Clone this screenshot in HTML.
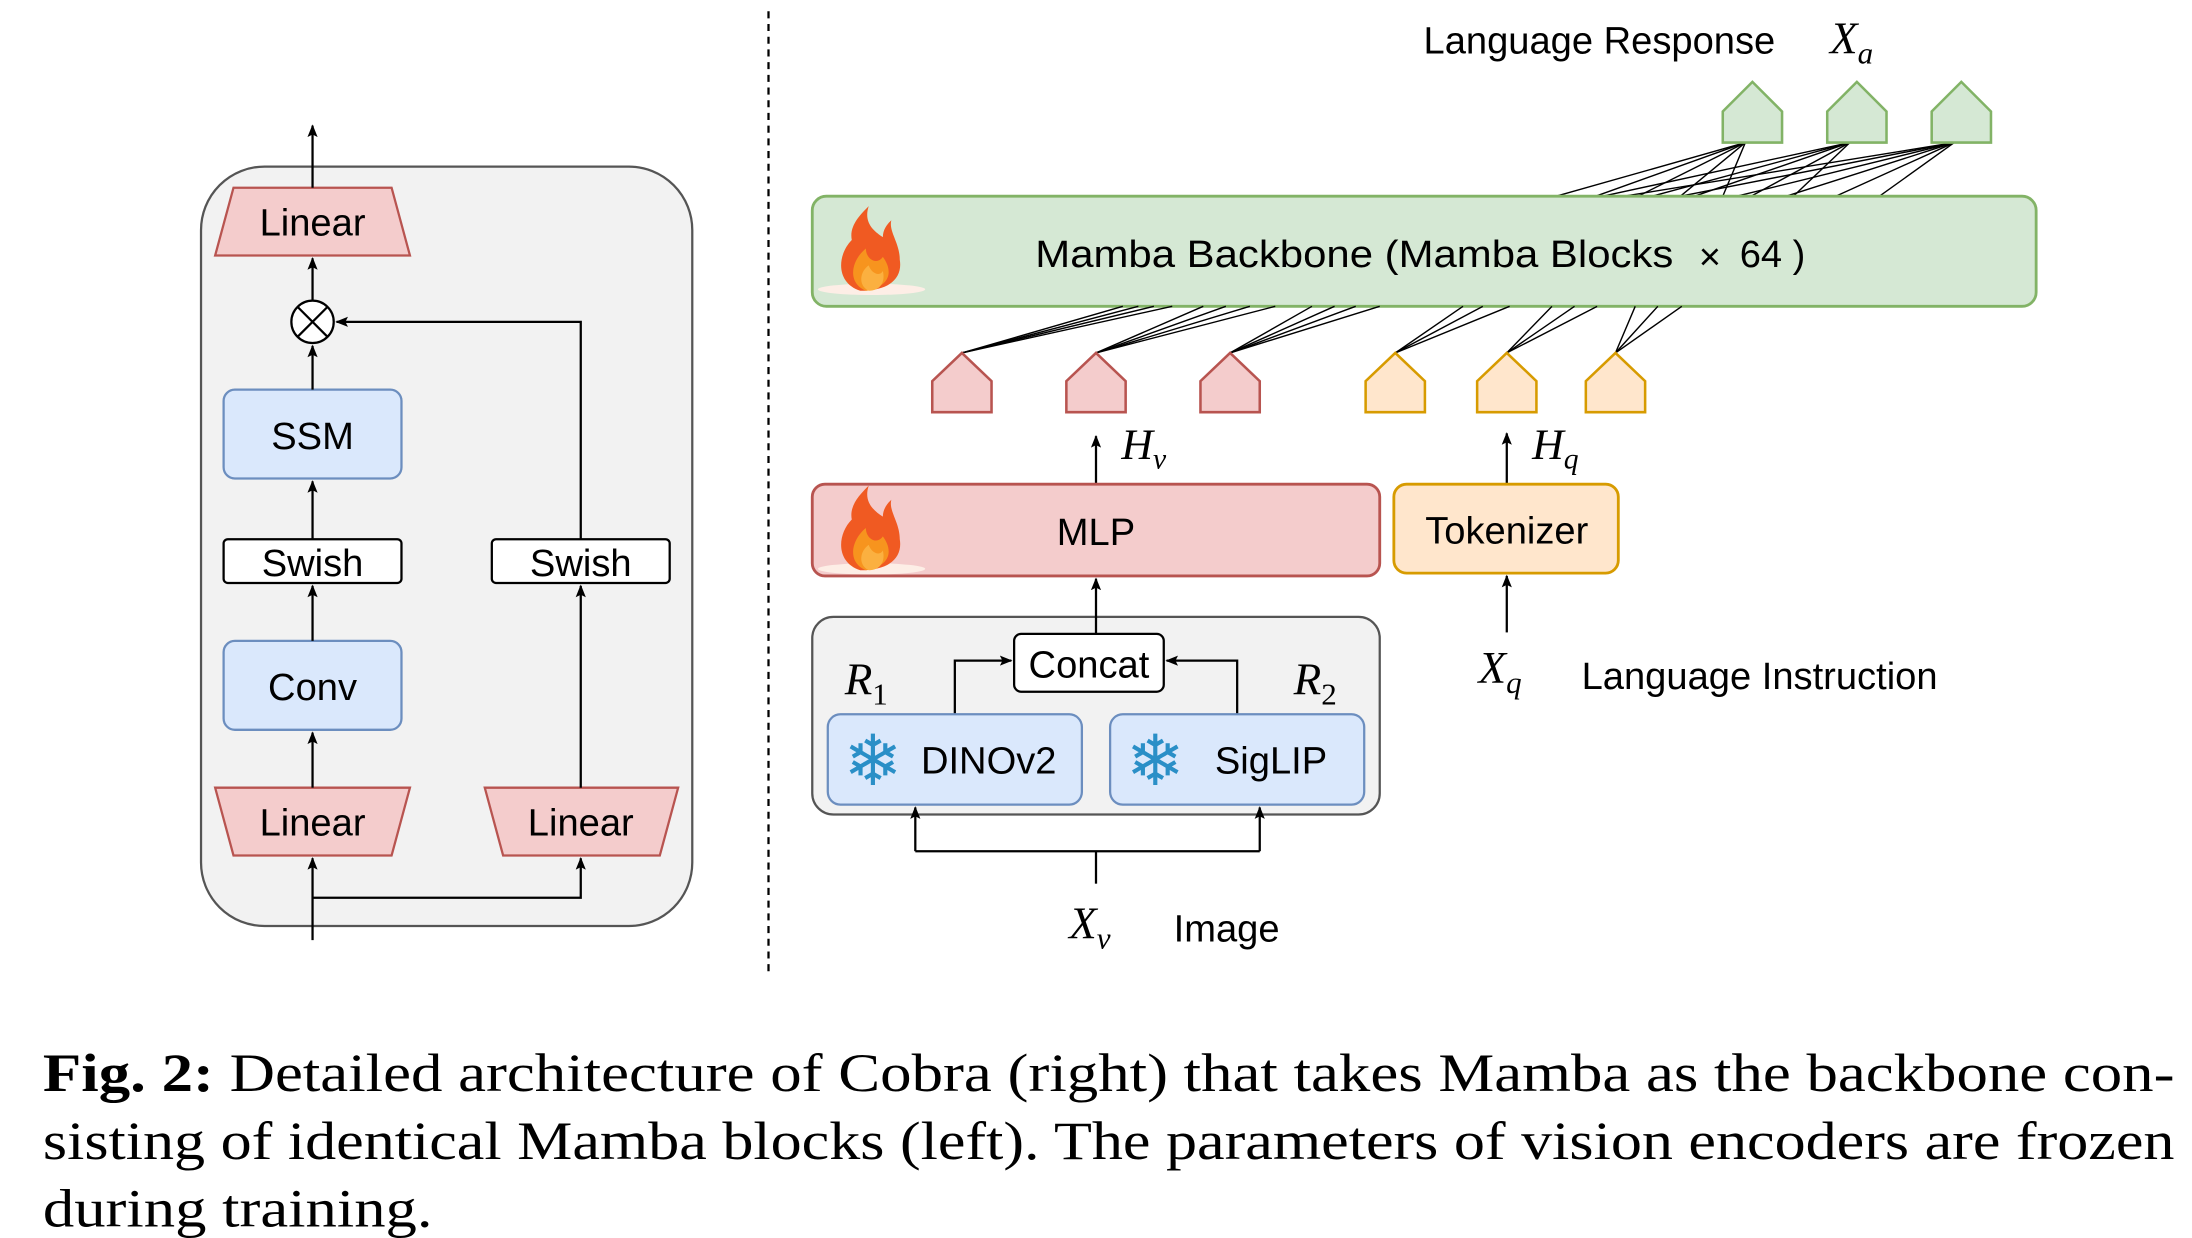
<!DOCTYPE html>
<html><head><meta charset="utf-8"><style>
html,body{margin:0;padding:0;background:#fff;}
svg{display:block;}
text{font-family:"Liberation Sans",Arial,sans-serif;}
text.s,.s text{font-family:"Liberation Serif","DejaVu Serif",serif;}
</style></head><body>
<svg width="2192" height="1238" viewBox="0 0 1552 877" xmlns="http://www.w3.org/2000/svg">
<defs>
<marker id="a" viewBox="0 0 10 10" refX="9" refY="5" markerWidth="9" markerHeight="9" orient="auto-start-reverse" markerUnits="userSpaceOnUse"><path d="M0,1 L10,5 L0,9 L2,5z" fill="#000"/></marker>
<g id="flame">
<ellipse cx="0" cy="25" rx="38" ry="4" fill="#fdeee6"/>
<path d="M-8,26 C-26,20 -24,0 -14,-10 C-16,-20 -8,-28 -2,-34 C-6,-22 2,-16 8,-12 C8,-18 12,-22 14,-24 C12,-16 20,-8 20,4 C22,16 14,26 -8,26z" fill="#f05a22"/>
<path d="M-4,26 C-18,20 -14,4 -4,-4 C-4,4 4,8 8,2 C14,10 16,22 -4,26z" fill="#f7941e"/>
<path d="M-2,26 C-10,22 -8,12 -2,8 C0,14 6,16 8,12 C10,20 6,26 -2,26z" fill="#fbb040"/>
</g>
</defs>

<!-- LEFT PANEL -->
<rect x="142" y="118" width="348" height="538" rx="45" fill="#f2f2f2" stroke="#555" stroke-width="1.6"/>
<polygon points="165,133 277,133 290,181 152,181" fill="#f4cccc" stroke="#b85450" stroke-width="1.6"/>
<text x="221" y="167" font-size="27" text-anchor="middle">Linear</text>
<line x1="221" y1="133" x2="221" y2="89" stroke="#000" stroke-width="1.6" marker-end="url(#a)"/>
<circle cx="221" cy="228" r="15" fill="#fff" stroke="#000" stroke-width="1.6"/>
<path d="M210.4,217.4 L231.6,238.6 M231.6,217.4 L210.4,238.6" stroke="#000" stroke-width="1.6"/>
<line x1="221" y1="213" x2="221" y2="183" stroke="#000" stroke-width="1.6" marker-end="url(#a)"/>
<rect x="158" y="276" width="126" height="63" rx="8" fill="#dae8fc" stroke="#6c8ebf" stroke-width="1.6"/>
<text x="221" y="318" font-size="27" text-anchor="middle">SSM</text>
<line x1="221" y1="276" x2="221" y2="245" stroke="#000" stroke-width="1.6" marker-end="url(#a)"/>
<rect x="158" y="382" width="126" height="31" rx="3" fill="#fff" stroke="#000" stroke-width="1.6"/>
<text x="221" y="408" font-size="27" text-anchor="middle">Swish</text>
<line x1="221" y1="382" x2="221" y2="341" stroke="#000" stroke-width="1.6" marker-end="url(#a)"/>
<rect x="158" y="454" width="126" height="63" rx="8" fill="#dae8fc" stroke="#6c8ebf" stroke-width="1.6"/>
<text x="221" y="496" font-size="27" text-anchor="middle">Conv</text>
<line x1="221" y1="454" x2="221" y2="415" stroke="#000" stroke-width="1.6" marker-end="url(#a)"/>
<polygon points="152,558 290,558 277,606 165,606" fill="#f4cccc" stroke="#b85450" stroke-width="1.6"/>
<text x="221" y="592" font-size="27" text-anchor="middle">Linear</text>
<line x1="221" y1="558" x2="221" y2="519" stroke="#000" stroke-width="1.6" marker-end="url(#a)"/>
<polygon points="343,558 480,558 467,606 356,606" fill="#f4cccc" stroke="#b85450" stroke-width="1.6"/>
<text x="411" y="592" font-size="27" text-anchor="middle">Linear</text>
<rect x="348" y="382" width="126" height="31" rx="3" fill="#fff" stroke="#000" stroke-width="1.6"/>
<text x="411" y="408" font-size="27" text-anchor="middle">Swish</text>
<line x1="411" y1="558" x2="411" y2="415" stroke="#000" stroke-width="1.6" marker-end="url(#a)"/>
<polyline points="411,382 411,228 238,228" fill="none" stroke="#000" stroke-width="1.6" marker-end="url(#a)"/>
<line x1="221" y1="666" x2="221" y2="608" stroke="#000" stroke-width="1.6" marker-end="url(#a)"/>
<polyline points="221,636 411,636 411,608" fill="none" stroke="#000" stroke-width="1.6" marker-end="url(#a)"/>

<!-- divider -->
<line x1="544" y1="8" x2="544" y2="690" stroke="#000" stroke-width="1.6" stroke-dasharray="5,4"/>

<!-- RIGHT -->
<text x="1008" y="38" font-size="27">Language Response</text>
<text x="1296" y="38" font-size="32" font-style="italic" class="s">X<tspan font-size="22" dy="7">a</tspan></text>

<g stroke="#000" stroke-width="1">
<line x1="1102" y1="139" x2="1236" y2="101"/><line x1="1130" y1="139" x2="1236" y2="101"/><line x1="1160" y1="139" x2="1236" y2="101"/><line x1="1190" y1="139" x2="1236" y2="101"/><line x1="1220" y1="139" x2="1236" y2="101"/>
<line x1="1135" y1="139" x2="1310" y2="101"/><line x1="1170" y1="139" x2="1310" y2="101"/><line x1="1200" y1="139" x2="1310" y2="101"/><line x1="1240" y1="139" x2="1310" y2="101"/><line x1="1270" y1="139" x2="1310" y2="101"/>
<line x1="1150" y1="139" x2="1384" y2="101"/><line x1="1190" y1="139" x2="1384" y2="101"/><line x1="1230" y1="139" x2="1384" y2="101"/><line x1="1265" y1="139" x2="1384" y2="101"/><line x1="1300" y1="139" x2="1384" y2="101"/><line x1="1331" y1="139" x2="1384" y2="101"/>
</g>
<g fill="#d5e8d4" stroke="#82b366" stroke-width="1.8">
<polygon points="1220,101 1220,79 1241,58 1262,79 1262,101"/>
<polygon points="1294,101 1294,79 1315,58 1336,79 1336,101"/>
<polygon points="1368,101 1368,79 1389,58 1410,79 1410,101"/>
</g>

<rect x="575" y="139" width="867" height="78" rx="10" fill="#d5e8d4" stroke="#82b366" stroke-width="2"/>
<use href="#flame" x="617" y="180"/>
<text x="733" y="189" font-size="27" textLength="452" lengthAdjust="spacingAndGlyphs">Mamba Backbone (Mamba Blocks</text>
<text x="1203" y="191" font-size="27" font-family="DejaVu Sans,sans-serif">×</text>
<text x="1232" y="189" font-size="27">64 )</text>

<g stroke="#000" stroke-width="1">
<line x1="681" y1="250" x2="795" y2="217"/><line x1="681" y1="250" x2="806" y2="217"/><line x1="681" y1="250" x2="817" y2="217"/><line x1="681" y1="250" x2="830" y2="217"/>
<line x1="776" y1="250" x2="852" y2="217"/><line x1="776" y1="250" x2="868" y2="217"/><line x1="776" y1="250" x2="885" y2="217"/><line x1="776" y1="250" x2="903" y2="217"/>
<line x1="871" y1="250" x2="929" y2="217"/><line x1="871" y1="250" x2="945" y2="217"/><line x1="871" y1="250" x2="960" y2="217"/><line x1="871" y1="250" x2="977" y2="217"/>
<line x1="988" y1="250" x2="1036" y2="217"/><line x1="988" y1="250" x2="1050" y2="217"/><line x1="988" y1="250" x2="1069" y2="217"/>
<line x1="1067" y1="250" x2="1099" y2="217"/><line x1="1067" y1="250" x2="1115" y2="217"/><line x1="1067" y1="250" x2="1131" y2="217"/>
<line x1="1144" y1="250" x2="1158" y2="217"/><line x1="1144" y1="250" x2="1174" y2="217"/><line x1="1144" y1="250" x2="1191" y2="217"/>
</g>
<g fill="#f4cccc" stroke="#b85450" stroke-width="1.8">
<polygon points="660,292 660,270 681,250 702,270 702,292"/>
<polygon points="755,292 755,270 776,250 797,270 797,292"/>
<polygon points="850,292 850,270 871,250 892,270 892,292"/>
</g>
<g fill="#ffe6cc" stroke="#d79b00" stroke-width="1.8">
<polygon points="967,292 967,270 988,250 1009,270 1009,292"/>
<polygon points="1046,292 1046,270 1067,250 1088,270 1088,292"/>
<polygon points="1123,292 1123,270 1144,250 1165,270 1165,292"/>
</g>

<line x1="776" y1="343" x2="776" y2="309" stroke="#000" stroke-width="1.6" marker-end="url(#a)"/>
<text x="794" y="325" font-size="31" font-style="italic" class="s">H<tspan font-size="21" dy="7">v</tspan></text>
<line x1="1067" y1="343" x2="1067" y2="307" stroke="#000" stroke-width="1.6" marker-end="url(#a)"/>
<text x="1085" y="325" font-size="31" font-style="italic" class="s">H<tspan font-size="21" dy="7">q</tspan></text>

<rect x="575" y="343" width="402" height="65" rx="9" fill="#f4cccc" stroke="#b85450" stroke-width="2"/>
<use href="#flame" x="617" y="378"/>
<text x="776" y="386" font-size="27" text-anchor="middle">MLP</text>
<rect x="987" y="343" width="159" height="63" rx="9" fill="#ffe6cc" stroke="#d79b00" stroke-width="2"/>
<text x="1067" y="385" font-size="27" text-anchor="middle">Tokenizer</text>
<line x1="1067" y1="448" x2="1067" y2="408" stroke="#000" stroke-width="1.6" marker-end="url(#a)"/>
<text x="1047" y="484" font-size="32" font-style="italic" class="s">X<tspan font-size="22" dy="7">q</tspan></text>
<text x="1120" y="488" font-size="27">Language Instruction</text>

<rect x="575" y="437" width="402" height="140" rx="15" fill="#f2f2f2" stroke="#555" stroke-width="1.6"/>
<rect x="718" y="449" width="106" height="41" rx="5" fill="#fff" stroke="#000" stroke-width="1.6"/>
<text x="771" y="480" font-size="27" text-anchor="middle">Concat</text>
<line x1="776" y1="449" x2="776" y2="410" stroke="#000" stroke-width="1.6" marker-end="url(#a)"/>
<polyline points="676,506 676,468 716,468" fill="none" stroke="#000" stroke-width="1.6" marker-end="url(#a)"/>
<polyline points="876,506 876,468 826,468" fill="none" stroke="#000" stroke-width="1.6" marker-end="url(#a)"/>
<text x="598" y="492" font-size="32" font-style="italic" class="s">R<tspan font-size="22" dy="7" font-style="normal">1</tspan></text>
<text x="916" y="492" font-size="32" font-style="italic" class="s">R<tspan font-size="22" dy="7" font-style="normal">2</tspan></text>
<rect x="586" y="506" width="180" height="64" rx="9" fill="#dae8fc" stroke="#6c8ebf" stroke-width="1.6"/>
<text x="618" y="556" font-size="50" text-anchor="middle" fill="#2a8fc7" font-family="DejaVu Sans,sans-serif">❄</text>
<text x="700" y="548" font-size="27" text-anchor="middle">DINOv2</text>
<rect x="786" y="506" width="180" height="64" rx="9" fill="#dae8fc" stroke="#6c8ebf" stroke-width="1.6"/>
<text x="818" y="556" font-size="50" text-anchor="middle" fill="#2a8fc7" font-family="DejaVu Sans,sans-serif">❄</text>
<text x="900" y="548" font-size="27" text-anchor="middle">SigLIP</text>
<line x1="776" y1="626" x2="776" y2="603" stroke="#000" stroke-width="1.6"/>
<polyline points="648,603 892,603" fill="none" stroke="#000" stroke-width="1.6"/>
<line x1="648" y1="603" x2="648" y2="572" stroke="#000" stroke-width="1.6" marker-end="url(#a)"/>
<line x1="892" y1="603" x2="892" y2="572" stroke="#000" stroke-width="1.6" marker-end="url(#a)"/>
<text x="757" y="665" font-size="32" font-style="italic" class="s">X<tspan font-size="22" dy="7">v</tspan></text>
<text x="831" y="667" font-size="27">Image</text>

<!-- caption -->
<g class="s" font-size="38">
<text x="30" y="773" textLength="1510" lengthAdjust="spacingAndGlyphs"><tspan font-weight="bold">Fig. 2:</tspan> Detailed architecture of Cobra (right) that takes Mamba as the backbone con-</text>
<text x="30" y="821" textLength="1510" lengthAdjust="spacingAndGlyphs">sisting of identical Mamba blocks (left). The parameters of vision encoders are frozen</text>
<text x="30" y="869" textLength="276" lengthAdjust="spacingAndGlyphs">during training.</text>
</g>
</svg>
</body></html>
